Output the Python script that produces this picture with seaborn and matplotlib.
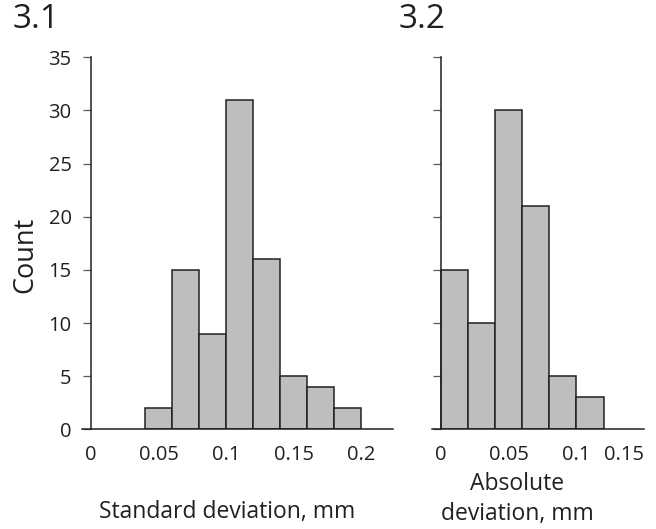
import numpy as np
import matplotlib
matplotlib.use("Agg")
import matplotlib.pyplot as plt
import seaborn as sns

# Histogram 3.1: standard deviation (mm)
sd_edges = [0.04, 0.06, 0.08, 0.10, 0.12, 0.14, 0.16, 0.18, 0.20]
sd_counts = [2, 15, 9, 31, 16, 5, 4, 2]
sd_ticks = [0, 0.05, 0.1, 0.15, 0.2]
sd_ticklabels = ["0", "0.05", "0.1", "0.15", "0.2"]

# Histogram 3.2: absolute deviation (mm)
ad_edges = [0.0, 0.02, 0.04, 0.06, 0.08, 0.10, 0.12]
ad_counts = [15, 10, 30, 21, 5, 3]
ad_ticks = [0, 0.05, 0.1, 0.15]
ad_ticklabels = ["0", "0.05", "0.1", "0.15"]

count_ticks = [0, 5, 10, 15, 20, 25, 30, 35]

sns.set_theme(style="ticks")
plt.rcParams["font.family"] = ["Open Sans", "DejaVu Sans"]
ink = "#231f20"
bar_fill = "#bcbec0"

fig = plt.figure(figsize=(6.56, 5.29), dpi=100)
W, H = 656, 529
ax1 = fig.add_axes([81.7 / W, 1 - 429.3 / H, 311 / W, 372 / H])
ax2 = fig.add_axes([431.7 / W, 1 - 429.3 / H, 212.6 / W, 372 / H])


def draw_hist(ax, edges, counts, xlim, ticks, ticklabels, show_ylabels):
    centers = [(a + b) / 2 for a, b in zip(edges[:-1], edges[1:])]
    sns.histplot(x=centers, weights=counts, bins=edges, ax=ax,
                 color=bar_fill, edgecolor=ink, linewidth=1.1, alpha=1)
    ax.set_xlim(*xlim)
    ax.set_ylim(0, 35)
    ax.set_xlabel("")
    ax.set_ylabel("")
    ax.spines["top"].set_visible(False)
    ax.spines["right"].set_visible(False)
    ax.spines["left"].set_position(("data", 0))
    for s in ("left", "bottom"):
        ax.spines[s].set_color(ink)
        ax.spines[s].set_linewidth(1.1)
    ax.set_yticks(count_ticks)
    ax.set_xticks(ticks)
    ax.set_xticklabels(ticklabels)
    ax.tick_params(axis="x", length=0, pad=11, labelsize=14.5, labelcolor=ink)
    ax.tick_params(axis="y", length=6, width=0.9, color="#58595b", pad=8,
                   labelsize=14.5, labelcolor=ink, labelleft=show_ylabels)


draw_hist(ax1, sd_edges, sd_counts, (-0.0069, 0.2231), sd_ticks, sd_ticklabels, True)
draw_hist(ax2, ad_edges, ad_counts, (-0.0066, 0.149), ad_ticks, ad_ticklabels, False)
ax2.get_xticklabels()[-1].set_horizontalalignment("right")

fig.text(25 / W, 1 - 255 / H, "Count", rotation=90, ha="center", va="center",
         fontsize=19.5, color=ink)
fig.text(227 / W, 1 - 512 / H, "Standard deviation, mm", ha="center", va="center",
         fontsize=16.5, color=ink)
fig.text(517 / W, 1 - 499 / H, "Absolute\ndeviation, mm", ha="center", va="center",
         fontsize=16.5, color=ink, linespacing=1.3)
fig.text(13 / W, 1 - 20 / H, "3.1", ha="left", va="center", fontsize=24, color=ink)
fig.text(399 / W, 1 - 20 / H, "3.2", ha="left", va="center", fontsize=24, color=ink)

fig.savefig("out.png", dpi=100)
